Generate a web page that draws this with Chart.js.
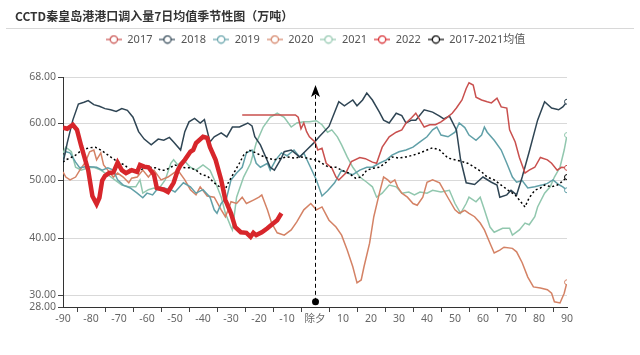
<!DOCTYPE html>
<html><head><meta charset="utf-8">
<script src="https://cdn.jsdelivr.net/npm/chart.js@4/dist/chart.umd.min.js"></script>
<style>
html,body{margin:0;padding:0;background:#fff;}
#wrap{position:relative;width:640px;height:355px;overflow:hidden;background:#fff;}
#title{position:absolute;left:15px;top:7px;font:bold 12px 'Noto Sans CJK SC',sans-serif;color:#333;line-height:18px;white-space:nowrap;}
#rule{position:absolute;left:6px;right:6px;top:28px;height:1px;background:#d8d8d8;}
canvas{position:absolute;left:0;top:0;}
</style></head><body>
<div id="wrap"><canvas id="c" width="640" height="355"></canvas><div id="title">CCTD秦皇岛港港口调入量7日均值季节性图（万吨）</div><div id="rule"></div></div>
<script>
// ---- data (day offset from 除夕, value in 万吨) ----
const days2017 = [-26,-20,-10,-7,-6,-5,-4,-3,-2,0,1,2.5,4,6,7.5,8.5,11,13,16,18,20.5,22,24,26.5,29,31,32.5,34.5,36,37.5,39,41,43,45,47,49,50.5,52.5,54,55,56.5,57.5,59.5,61.5,63,65,66.5,68.5,69.5,71.5,73,75,76.5,78.5,80.5,83,84.5,86.5,88,90];
const vals2017 = [61.4,61.4,61.4,61.4,61.0,59.0,60.0,58.5,57.6,56.7,55.3,55.6,53.0,52.2,50.6,50.1,51.3,53.3,54.0,53.8,53.2,53.0,55.8,57.6,58.4,58.8,60.0,60.9,61.7,60.5,59.3,59.7,59.7,60.2,60.9,61.7,62.6,64.0,66.0,67.0,66.6,64.5,64.0,63.7,63.5,64.3,62.8,62.6,58.8,56.7,54.0,51.3,51.8,52.3,54.0,53.6,53.0,51.8,52.3,52.2];

const days2018 = [-90,-88.5,-86.5,-84.5,-82.5,-81,-79,-77,-75,-73,-71,-69,-67,-65,-63,-61,-58.5,-56,-54,-52,-50.5,-48,-46.5,-45,-43,-41,-39.5,-37.5,-36,-33.5,-31.5,-29.5,-27,-24,-22.5,-21.5,-19.5,-16,-14.5,-12,-11,-8.5,-5.5,-3,-0.5,1.5,5,8.5,10.5,13.5,15,17,18.5,20.5,23,24.5,26.5,29,31,32.5,34.5,36,39,42,44.5,46,48,50.5,52,54,57,60,63,65,66,68.5,70,72,74,76.5,79.5,82,84.5,87,88.5,90];
const vals2018 = [53.0,56.5,60.5,63.3,63.6,63.9,63.2,62.9,62.5,62.3,62.0,62.5,62.2,61.0,58.5,57.2,56.2,57.2,57.0,57.5,56.7,55.3,58.5,60.2,60.8,60.0,60.6,56.7,57.6,58.3,57.6,59.3,59.3,60.0,59.5,57.6,56.2,52.3,51.8,53.9,55.0,55.3,54.1,55.3,56.5,57.6,59.4,63.7,63.0,64.0,63.0,64.0,65.2,64.0,61.9,60.5,60.0,61.7,61.3,60.0,60.5,60.5,62.3,61.9,61.2,60.7,61.2,58.8,53.6,49.6,49.3,50.6,49.7,49.2,47.1,47.5,48.3,47.5,50.6,55.0,60.5,63.7,62.6,62.3,62.8,63.7];

const days2019 = [-90,-89,-87.5,-85.5,-84,-82,-80.5,-78,-76,-74,-72,-70.5,-68.5,-66,-63.5,-61.5,-60,-58,-56.5,-54,-51.5,-50,-47,-44.5,-42.5,-40,-37.5,-36,-35,-33.5,-31.5,-30,-28,-26,-24.5,-22.5,-21,-19.5,-17,-16,-14,-12,-10,-7.5,-5.5,-4,-2,0.5,2.5,4.5,7,9.5,11.5,13.5,16,18.5,20.5,23,25.5,27.5,30,32.5,35,37.5,40,42,43.5,45,47.5,50,51.5,53.5,55,57.5,59.5,60.5,61.5,64,66.5,68.5,70.5,72,74,76,78.5,81,83,85,87,88.5,90];
const vals2019 = [54.0,55.0,54.8,53.2,52.2,52.4,52.4,52.3,51.8,52.2,51.8,50.1,49.2,48.7,47.8,47.0,47.8,47.5,48.4,48.7,48.4,48.0,49.6,48.9,47.8,48.4,47.1,44.9,44.3,46.0,47.1,50.1,51.3,52.3,54.8,55.3,53.0,52.3,53.0,51.8,53.6,54.8,54.3,55.3,54.1,54.8,52.7,50.1,47.3,48.2,49.6,51.8,51.3,51.0,51.8,52.3,52.3,53.0,53.6,54.4,55.0,55.3,55.8,56.7,57.6,58.8,59.3,57.9,57.6,58.4,60.0,59.2,57.9,57.0,57.9,59.3,58.4,57.0,55.3,53.0,50.6,49.7,50.0,48.7,48.9,49.2,49.5,50.1,49.3,48.9,48.3];

const days2020 = [-90,-89,-87.5,-85.5,-84,-82,-80.5,-79,-78,-76.5,-75.5,-74,-72,-70.5,-68.5,-66.5,-65.5,-63.5,-61.5,-59.5,-57.5,-55,-52.5,-50.5,-49,-46.5,-44.5,-42.5,-41,-38.5,-36,-33.5,-32,-31,-30,-28,-26,-24.5,-22,-20,-19,-17,-15.5,-13.5,-11,-8.5,-6.5,-4,-1.5,0.5,2.5,5,7.5,9.5,11.5,13.5,15,16.5,17.5,19.5,21,23,24.5,26,27,28.5,29.5,31,33,35,36.5,38.5,40,42,44.5,47.5,50,51.5,53.5,55,57,59,60.5,62.5,64,66,67.5,70.5,72,74,76,78,80.5,83,84.5,85.5,87.5,89,90];
const vals2020 = [51.5,50.6,50.1,50.6,51.8,53.2,55.0,55.3,53.6,54.8,52.7,51.8,50.6,51.3,50.6,49.6,50.4,50.6,51.8,50.6,51.8,50.1,50.6,51.3,51.8,50.1,48.4,47.5,48.9,47.3,47.1,44.9,43.7,44.9,46.3,46.0,47.1,46.0,46.6,47.1,47.5,44.9,42.6,40.9,40.5,41.4,42.8,44.9,46.0,44.9,45.4,43.1,41.9,40.5,37.9,35.0,32.2,32.7,35.0,39.1,43.7,47.8,50.6,50.1,49.6,50.1,48.9,47.8,47.1,46.0,45.7,47.1,49.7,50.1,49.6,47.0,44.9,44.3,44.8,44.3,43.7,42.6,41.4,39.1,37.4,37.9,38.4,38.2,37.6,35.7,33.2,31.5,31.3,31.0,30.4,28.9,28.7,30.4,32.3];

const days2021 = [-90,-89,-87,-85.5,-83.5,-81,-79,-76.5,-74,-71.5,-69,-66.5,-64,-62.5,-61.5,-59.5,-57.5,-56,-53.5,-51.5,-50.5,-49,-47,-44.5,-42.5,-40,-37.5,-35.5,-33.5,-32,-30,-29.5,-28,-25.5,-23,-21,-18.5,-16,-13.5,-11,-8.5,-6.5,-4,-2,0.5,2.5,4.5,6,8,9.5,11.5,13.5,16,18.5,20.5,22,24,26.5,29,31,33.5,35.5,37.5,40,42,45,48,50,52,54,55,57.5,59,60.5,62.5,64,67,69.5,70.5,73,75,76.5,78.5,79.5,82,84,85.5,87.5,89,90];
const vals2021 = [54.8,55.8,55.0,52.3,51.8,52.2,52.3,51.8,51.0,50.1,49.2,48.9,48.9,50.1,47.8,48.4,48.7,48.4,50.1,53.0,53.6,52.7,53.6,52.3,51.8,52.7,51.8,49.6,47.1,44.3,41.9,41.4,47.1,50.6,53.0,56.5,59.3,61.0,61.7,61.0,59.3,60.0,60.2,60.2,60.4,59.7,58.4,58.8,57.6,56.2,54.1,52.3,50.6,49.7,48.9,47.1,47.8,49.2,48.9,47.8,48.0,47.5,48.0,47.8,48.3,48.0,48.3,46.0,44.3,46.0,47.1,46.3,47.1,44.9,41.9,41.0,41.7,41.7,40.5,41.4,42.6,42.3,43.7,45.4,47.8,48.9,50.6,52.3,55.3,57.9];

const days2022 = [-90,-88.5,-86.5,-85,-83.5,-81,-79.5,-78,-77,-76,-75,-73.5,-72,-70.5,-69,-67.5,-65.5,-63.5,-62.5,-61,-59.5,-57.5,-56.5,-54,-52.5,-50.5,-49,-48,-46.5,-44.5,-43.5,-42.5,-40,-38.5,-37.5,-35.5,-33.5,-32,-30,-28.5,-26.5,-24.5,-23,-22,-21,-19,-17,-15.5,-13.5,-12];
const vals2022 = [59.2,59.0,59.7,58.8,56.0,51.8,47.3,45.9,47.0,50.0,50.8,51.3,51.4,53.1,51.8,51.3,51.8,51.5,52.7,52.4,52.3,51.0,48.7,48.4,48.0,49.6,51.8,52.7,53.6,55.0,55.3,56.5,57.6,57.4,55.8,53.6,50.1,46.6,44.3,41.9,41.0,40.9,40.2,40.9,40.5,41.0,41.7,42.3,43.1,44.3];

const daysAvg = [-90,-89,-87.5,-85.5,-84,-82,-80.5,-78.5,-76.5,-75,-73,-71.5,-69.5,-68,-66,-64,-62.5,-60.5,-59,-57,-55,-53.5,-51.5,-50,-48,-45.5,-44.5,-42.5,-40.5,-38.5,-36,-33.5,-32.5,-31,-29,-27,-25.5,-23.5,-22,-19.5,-17,-14.5,-12,-10,-7.5,-5,-3,-0.5,0.5,2.5,5,7.5,9.5,12,14.5,16.5,18.5,20.5,23,25.5,27.5,30,32.5,35,37.5,40,42,44.5,47.5,50,52.5,54.5,57,59.5,61.5,64,66.5,69,71.5,73,75,76.5,78.5,80.5,82,84.5,86.5,88,90];
const valsAvg = [53.2,53.6,53.9,54.4,55.0,55.5,55.7,55.8,55.3,54.8,54.1,53.6,53.0,52.7,51.8,51.5,51.8,52.3,52.3,52.2,51.8,51.8,52.3,52.7,52.3,52.2,52.2,51.8,51.0,50.8,49.6,48.7,48.0,49.6,51.3,53.0,54.4,55.3,55.0,54.4,53.9,53.6,53.9,54.1,53.9,54.1,53.9,53.6,53.6,53.0,52.3,52.3,51.8,51.3,50.4,50.6,51.8,52.1,52.3,53.2,54.1,53.9,54.1,54.4,54.8,55.3,55.7,55.3,53.9,53.6,53.3,53.0,52.3,51.5,50.6,50.1,49.2,48.3,47.5,46.6,45.4,47.0,48.3,48.7,49.2,48.9,49.2,49.7,50.6];

const yTicks = [28, 30, 40, 50, 60, 68];
const springFestivalDay = [0];
const markLineSpan = [28.9, 66.6];

// ---- chart ----
Chart.defaults.font.family = "'Noto Sans','Noto Sans CJK SC',sans-serif";

function legendIcon(color) {
  const c = document.createElement('canvas');
  c.width = 16; c.height = 10;
  const g = c.getContext('2d');
  g.strokeStyle = color; g.lineWidth = 1.2;
  g.beginPath(); g.moveTo(0, 5); g.lineTo(16, 5); g.stroke();
  g.beginPath(); g.arc(8, 5, 3.6, 0, Math.PI * 2);
  g.fillStyle = '#fff'; g.fill(); g.stroke();
  return c;
}

function series(label, days, vals, color, extra) {
  const last = days.length - 1;
  return Object.assign({
    label,
    data: days.map((d, i) => ({x: d, y: vals[i]})),
    borderColor: color,
    backgroundColor: color,
    borderWidth: 1.5,
    tension: 0,
    fill: false,
    pointRadius: ctx => ctx.dataIndex === last ? 2.5 : 0,
    pointBackgroundColor: '#fff',
    pointBorderColor: color,
    pointBorderWidth: 1,
    order: 2
  }, extra || {});
}

const datasets = [
  series('2017', days2017, vals2017, '#c9504e'),
  series('2018', days2018, vals2018, '#2f4554'),
  series('2019', days2019, vals2019, '#61a0a8'),
  series('2020', days2020, vals2020, '#d48265'),
  series('2021', days2021, vals2021, '#91c7ae'),
  series('2022', days2022, vals2022, '#d7262b', {borderWidth: 4.5, pointRadius: 0, order: 0}),
  series('2017-2021均值', daysAvg, valsAvg, '#000000', {borderWidth: 1.5, borderDash: [2, 2.5], order: 1})
];

const legendSpacer = {
  id: 'legendSpacer',
  beforeInit(chart) {
    const orig = chart.legend.fit;
    chart.legend.fit = function () { orig.call(this); this.height += 22; };
  },
  afterLayout(chart) {
    chart.legend.left = 0;
    chart.legend.right = 631;
  }
};

const markLine = {
  id: 'markLine',
  afterDatasetsDraw(chart) {
    const {ctx, scales: {x, y}} = chart;
    const px = Math.round(x.getPixelForValue(springFestivalDay[0])) + 0.5;
    const yb = y.getPixelForValue(markLineSpan[0]);
    const yt = y.getPixelForValue(markLineSpan[1]);
    ctx.save();
    ctx.strokeStyle = '#000'; ctx.fillStyle = '#000'; ctx.lineWidth = 1;
    ctx.setLineDash([4, 3]);
    ctx.beginPath(); ctx.moveTo(px, yb); ctx.lineTo(px, yt + 9); ctx.stroke();
    ctx.setLineDash([]);
    ctx.beginPath();
    ctx.moveTo(px, yt); ctx.lineTo(px - 4.5, yt + 12); ctx.lineTo(px, yt + 9); ctx.lineTo(px + 4.5, yt + 12);
    ctx.closePath(); ctx.fill();
    ctx.beginPath(); ctx.arc(px, yb, 3.5, 0, Math.PI * 2); ctx.fill();
    ctx.restore();
  }
};

new Chart(document.getElementById('c'), {
  type: 'line',
  data: {datasets},
  options: {
    responsive: false,
    animation: false,
    devicePixelRatio: 1,
    layout: {padding: {top: 27, right: 73, bottom: 0, left: 0}},
    plugins: {
      tooltip: {enabled: false},
      legend: {
        position: 'top',
        labels: {
          usePointStyle: true,
          pointStyleWidth: 16,
          padding: 7,
          color: '#555',
          font: {size: 11},
          generateLabels(chart) {
            return chart.data.datasets.map((ds, i) => ({
              text: ds.label,
              fillStyle: ds.borderColor,
              strokeStyle: ds.borderColor,
              lineWidth: 0,
              hidden: false,
              datasetIndex: i,
              fontColor: '#555',
              pointStyle: legendIcon(ds.borderColor)
            }));
          }
        }
      }
    },
    scales: {
      x: {
        type: 'linear',
        min: -90, max: 90,
        afterFit(scale) { scale.height = 48; },
        ticks: {
          stepSize: 5,
          autoSkip: false,
          maxRotation: 0,
          padding: 1,
          color: '#666',
          font: {size: 10.5},
          callback: v => v === 0 ? '除夕' : (v % 10 === 0 ? String(v) : '')
        },
        grid: {
          drawOnChartArea: false,
          drawTicks: true,
          tickLength: 5,
          tickColor: ctx => (ctx.tick && ctx.tick.value % 10 !== 0) ? '#444' : 'rgba(0,0,0,0)'
        },
        border: {display: true, color: '#333', width: 1}
      },
      y: {
        type: 'linear',
        min: 28, max: 68,
        afterFit(scale) { scale.width = 63; },
        afterBuildTicks(scale) { scale.ticks = yTicks.map(v => ({value: v})); },
        ticks: {
          autoSkip: false,
          padding: 2,
          color: '#666',
          font: {size: 10.5},
          callback: v => Number(v).toFixed(2)
        },
        grid: {color: '#d9d9d9', tickColor: '#444', tickLength: 5},
        border: {display: true, color: '#333', width: 1}
      }
    }
  },
  plugins: [legendSpacer, markLine]
});
</script>
</body></html>
